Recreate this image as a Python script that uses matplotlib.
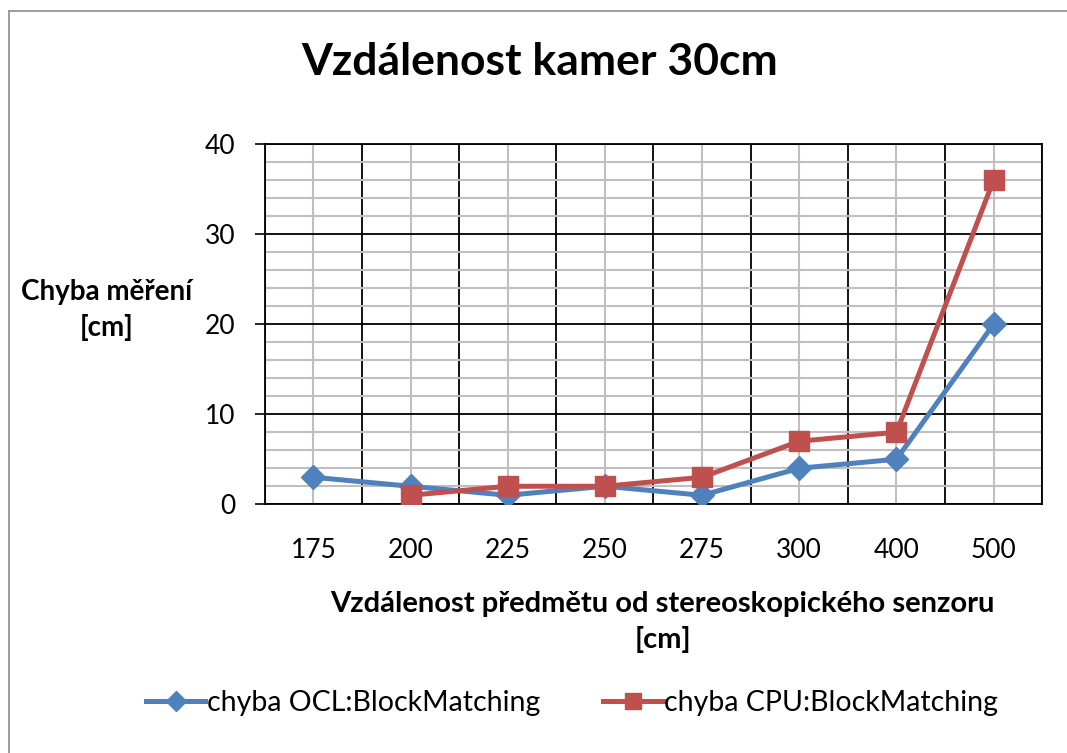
import numpy as np
import matplotlib
matplotlib.use('Agg')
from matplotlib import pyplot as plt
from matplotlib.lines import Line2D

plt.rcParams['font.family'] = ['Lato', 'DejaVu Sans']

# data
categories = ['175', '200', '225', '250', '275', '300', '400', '500']
ocl = [3, 2, 1, 2, 1, 4, 5, 20]
cpu = [np.nan, 1, 2, 2, 3, 7, 8, 36]

blue = '#4F81BD'
red = '#C0504D'

fig = plt.figure(figsize=(10.67, 7.53), dpi=100)
ax = fig.add_axes([0.2481, 0.3303, 0.7287, 0.4785])

x = np.arange(1, len(categories) + 1)
ax.plot(x, ocl, color=blue, lw=3.6, marker='D', ms=12, mec=blue, mfc=blue,
        label='chyba OCL:BlockMatching', zorder=3)
ax.plot(x, cpu, color=red, lw=3.6, marker='s', ms=14, mec=red, mfc=red,
        label='chyba CPU:BlockMatching', zorder=4)

ax.set_xlim(0.5, len(categories) + 0.5)
ax.set_ylim(0, 40)

# category centers -> labels + gray grid, boundaries -> black grid
ax.set_xticks(x)
ax.set_xticklabels(categories)
ax.set_xticks(np.arange(0.5, len(categories) + 1, 1), minor=True)
ax.set_yticks(np.arange(0, 41, 10))
ax.set_yticks(np.arange(0, 41, 2), minor=True)

ax.grid(which='major', axis='x', color='#BFBFBF', lw=1.5)
ax.grid(which='minor', axis='x', color='black', lw=1.3)
ax.grid(which='major', axis='y', color='black', lw=1.3)
ax.grid(which='minor', axis='y', color='#BFBFBF', lw=1.5)
ax.set_axisbelow(True)

ax.tick_params(axis='x', which='both', length=0, labelsize=19, pad=24)
ax.tick_params(axis='y', which='major', length=7, width=1.2, direction='out',
               labelsize=19, pad=14)
ax.tick_params(axis='y', which='minor', length=0)
for s in ax.spines.values():
    s.set_color('black')
    s.set_linewidth(1.3)

fig.text(0.506, 0.917, 'Vzdálenost kamer 30cm', ha='center', va='center',
         fontsize=32, fontweight='bold')
fig.text(0.1, 0.588, 'Chyba měření\n[cm]', ha='center', va='center',
         fontsize=20, fontweight='bold', linespacing=1.4)
fig.text(0.621, 0.174, 'Vzdálenost předmětu od stereoskopického senzoru\n[cm]',
         ha='center', va='center', fontsize=21, fontweight='bold',
         linespacing=1.45)

fig.legend(loc='center', bbox_to_anchor=(0.536, 0.066), ncol=2, frameon=False,
           fontsize=20.5, handlelength=2.1, handletextpad=0.05, columnspacing=2.2,
           markerscale=0.85)

# chart area border (left and top only visible)
fig.add_artist(Line2D([0.0085, 0.0085], [0, 0.986], color='#8C8C8C', lw=1.2))
fig.add_artist(Line2D([0.0085, 1], [0.986, 0.986], color='#8C8C8C', lw=1.2))

fig.savefig('out.png', dpi=100)
